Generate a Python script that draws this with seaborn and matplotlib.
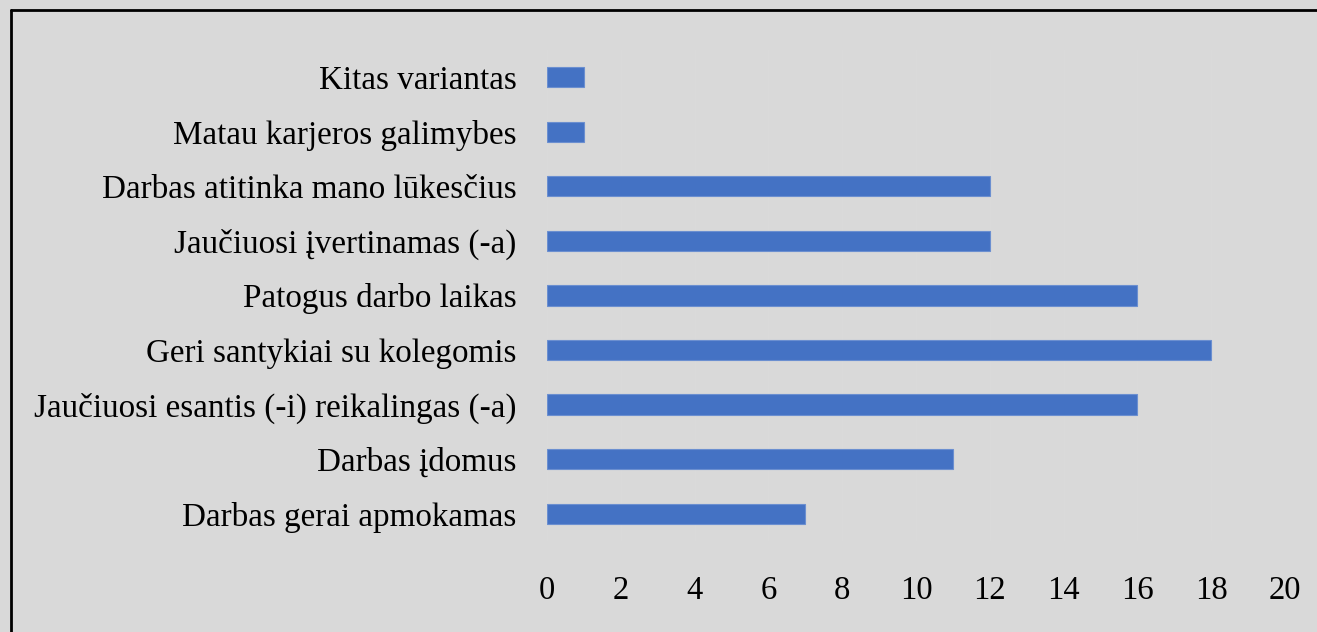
import matplotlib
matplotlib.use("Agg")
import matplotlib.pyplot as plt
from matplotlib.lines import Line2D
import seaborn as sns
import pandas as pd

# categories listed top to bottom, as in the picture
categories = [
    "Kitas variantas",
    "Matau karjeros galimybes",
    "Darbas atitinka mano lūkesčius",
    "Jaučiuosi įvertinamas (-a)",
    "Patogus darbo laikas",
    "Geri santykiai su kolegomis",
    "Jaučiuosi esantis (-i) reikalingas (-a)",
    "Darbas įdomus",
    "Darbas gerai apmokamas",
]
counts = [1, 1, 12, 12, 16, 18, 16, 11, 7]
x_ticks = [0, 2, 4, 6, 8, 10, 12, 14, 16, 18, 20]

df = pd.DataFrame({"answer": categories, "count": counts})

sns.set_theme(style="white")
plt.rcParams["font.family"] = ["Liberation Serif", "DejaVu Serif"]

bg = "#d9d9d9"
fig = plt.figure(figsize=(13.17, 6.32), dpi=100, facecolor=bg)
ax = fig.add_axes([0.4153, 0.144, 0.5604, 0.777])
ax.set_facecolor(bg)

sns.barplot(data=df, x="count", y="answer", orient="h", color="#4472c4",
            saturation=1, width=0.37, ax=ax, edgecolor="#6b8fd0", linewidth=0.8)

ax.set_xlim(0, 20)
ax.set_ylim(8.5, -0.5)
ax.set_xticks(x_ticks)
ax.set_xticklabels([str(t) for t in x_ticks])
# gridlines are barely visible in the original
ax.xaxis.grid(True, color="#dbdbdb", linewidth=0.6)
ax.set_axisbelow(True)
for s in ax.spines.values():
    s.set_visible(False)
ax.tick_params(axis="x", length=0, pad=25, labelsize=23.5, colors="black")
ax.tick_params(axis="y", length=0, pad=22, labelsize=23.9, colors="black")
ax.set_xlabel("")
ax.set_ylabel("")

# black frame, cut off at right and bottom like the screenshot
x0 = 11 / 1317
y0 = 1 - 10 / 632
fig.add_artist(Line2D([x0, 1.01], [y0, y0], color="black", linewidth=2, transform=fig.transFigure))
fig.add_artist(Line2D([x0, x0], [y0, -0.01], color="black", linewidth=2, transform=fig.transFigure))

fig.savefig("out.png", dpi=100, facecolor=bg)
